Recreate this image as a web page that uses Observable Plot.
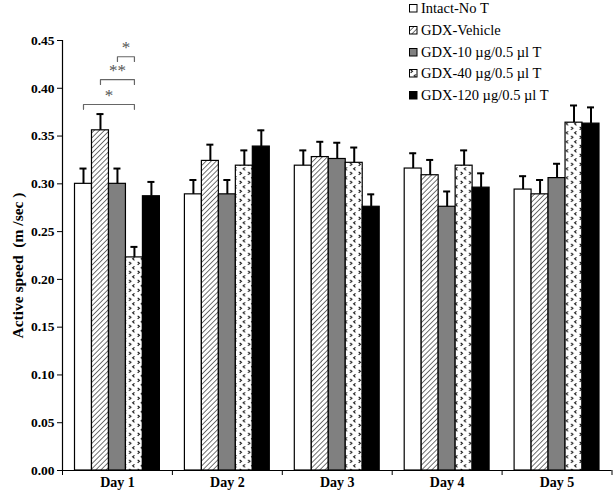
<!DOCTYPE html>
<html>
<head>
<meta charset="utf-8">
<script src="https://cdn.jsdelivr.net/npm/d3@7"></script>
<script src="https://cdn.jsdelivr.net/npm/@observablehq/plot@0.6"></script>
<style>
  html, body { margin: 0; padding: 0; background: #fff; }
  #wrap { position: relative; width: 613px; height: 494px; font-family: "Liberation Serif", "Times New Roman", serif; }
  #legend { position: absolute; left: 409px; top: -2px; font-size: 14.5px; color: #000; }
  #legend .item { height: 21.7px; display: flex; align-items: center; white-space: nowrap; }
  #legend svg { margin-right: 3px; }
</style>
</head>
<body>
<svg width="0" height="0" style="position:absolute">
  <defs>
    <pattern id="hatch" patternUnits="userSpaceOnUse" width="3.6" height="3.6" patternTransform="rotate(45)">
      <rect width="3.6" height="3.6" fill="#fff"></rect>
      <line x1="0" y1="0" x2="0" y2="3.6" stroke="#000" stroke-width="1.1"></line>
    </pattern>
    <pattern id="chev" patternUnits="userSpaceOnUse" width="8.5" height="9">
      <rect width="8.5" height="9" fill="#fff"></rect>
      <path d="M1.6,0.8 L3.4,2.3 L1.6,3.8" stroke="#000" stroke-width="1" fill="none"></path>
      <path d="M7,5.3 L5.2,6.8 L7,8.3" stroke="#000" stroke-width="1" fill="none"></path>
    </pattern>
  </defs>
</svg>
<div id="wrap">
  <div id="chart"></div>
  <div id="legend"></div>
</div>
<script>
// ---- data ----
const days = ["Day 1", "Day 2", "Day 3", "Day 4", "Day 5"];
const groups = ["Intact-No T", "GDX-Vehicle", "GDX-10 \u00b5g/0.5 \u00b5l T", "GDX-40 \u00b5g/0.5 \u00b5l T", "GDX-120 \u00b5g/0.5 \u00b5l T"];
const intact     = [0.300, 0.289, 0.319, 0.316, 0.294];
const intactErr  = [0.016, 0.015, 0.016, 0.016, 0.014];
const vehicle    = [0.356, 0.324, 0.328, 0.309, 0.289];
const vehicleErr = [0.017, 0.017, 0.016, 0.016, 0.015];
const t10        = [0.300, 0.289, 0.326, 0.276, 0.306];
const t10Err     = [0.016, 0.015, 0.017, 0.016, 0.015];
const t40        = [0.223, 0.319, 0.322, 0.319, 0.364];
const t40Err     = [0.011, 0.016, 0.016, 0.016, 0.018];
const t120       = [0.287, 0.339, 0.276, 0.296, 0.363];
const t120Err    = [0.015, 0.017, 0.013, 0.015, 0.017];
const yTicks = [0, 0.05, 0.10, 0.15, 0.20, 0.25, 0.30, 0.35, 0.40, 0.45];
const yLabel = "Active speed\u00a0\u00a0(m /sec\u00a0)";
// significance brackets on Day 1: [day index, group from, group to, label, bracket level]
const sigDay   = [0, 0, 0];
const sigFrom  = [0, 1, 2];
const sigTo    = [3, 3, 3];
const sigLabel = ["*", "**", "*"];
const sigLevel = [0.383, 0.409, 0.433];

// ---- styles ----
const fills = ["#ffffff", "url(#hatch)", "#808080", "url(#chev)", "#000000"];
const font = "'Liberation Serif', 'Times New Roman', serif";

const series = [intact, vehicle, t10, t40, t120];
const errs = [intactErr, vehicleErr, t10Err, t40Err, t120Err];
const rows = [];
days.forEach((day, i) => groups.forEach((g, j) => rows.push({day, di: i, gi: j, group: g, value: series[j][i], err: errs[j][i]})));

// position of a group within its day, in day units on a linear x scale
const barW = 0.1545;
const left = d => d.di + 1 - 2.5 * barW + d.gi * barW;
const mid = (di, gi) => di + 1 - 2.5 * barW + gi * barW + barW / 2;
const capHalf = 0.032;

const brackets = [];
sigLabel.forEach((lab, k) => {
  const a = mid(sigDay[k], sigFrom[k]), b = mid(sigDay[k], sigTo[k]);
  const lv = sigLevel[k];
  brackets.push({k, x: a, y: lv - 0.005}, {k, x: a, y: lv}, {k, x: b, y: lv}, {k, x: b, y: lv - 0.005});
});
const sigText = sigLabel.map((lab, k) => ({label: lab, x: (mid(sigDay[k], sigFrom[k]) + mid(sigDay[k], sigTo[k])) / 2, y: sigLevel[k]}));

const plot = Plot.plot({
  width: 613,
  height: 494,
  marginLeft: 62,
  marginRight: 1.5,
  marginTop: 40,
  marginBottom: 24,
  style: {fontFamily: font, background: "transparent", color: "#000"},
  x: {type: "linear", domain: [0.5, 5.5]},
  y: {domain: [0, 0.45]},
  color: {type: "ordinal", domain: groups, range: fills},
  marks: [
    Plot.rect(rows, {x1: left, x2: d => left(d) + barW, y1: 0, y2: "value", fill: "group", stroke: "#000", strokeWidth: 1.2}),
    Plot.ruleX(rows, {x: d => mid(d.di, d.gi), y1: "value", y2: d => d.value + d.err, stroke: "#000", strokeWidth: 2}),
    Plot.ruleY(rows, {y: d => d.value + d.err, x1: d => mid(d.di, d.gi) - capHalf, x2: d => mid(d.di, d.gi) + capHalf, stroke: "#000", strokeWidth: 2}),
    Plot.line(brackets, {x: "x", y: "y", z: "k", stroke: "#666", strokeWidth: 1.2}),
    Plot.text(sigText, {x: "x", y: "y", text: "label", dy: -9, fontSize: 17, fill: "#555", fontFamily: font}),
    Plot.ruleY([0], {stroke: "#000", strokeWidth: 1.2}),
    Plot.ruleX([0.5], {y1: 0, y2: 0.45, stroke: "#000", strokeWidth: 1.2}),
    Plot.axisY({ticks: yTicks, tickFormat: d3.format(".2f"), tickSize: 5, tickPadding: 3, fontSize: 13.5, fontWeight: "bold", label: null}),
    Plot.axisX({ticks: [0.5, 1.5, 2.5, 3.5, 4.5, 5.5], tickSize: 5, tickFormat: () => "", label: null}),
    Plot.axisX({ticks: [1, 2, 3, 4, 5], tickSize: 0, tickPadding: 7, tickFormat: d => days[d - 1], fontSize: 14, fontWeight: "bold", label: null}),
    Plot.text([yLabel], {frameAnchor: "left", text: d => d, rotate: -90, dx: -44, dy: 10, fontSize: 15.5, fontWeight: "bold", fontFamily: font, textAnchor: "middle", lineAnchor: "middle"})
  ]
});
document.getElementById("chart").appendChild(plot);

// legend
const legend = d3.select("#legend");
groups.forEach((g, j) => {
  const item = legend.append("div").attr("class", "item");
  const s = item.append("svg").attr("width", 9).attr("height", 9);
  s.append("rect").attr("x", 0.5).attr("y", 0.5).attr("width", 7.5).attr("height", 7.5)
    .attr("fill", fills[j]).attr("stroke", "#000").attr("stroke-width", 1);
  item.append("span").text(g);
});
</script>
</body>
</html>
